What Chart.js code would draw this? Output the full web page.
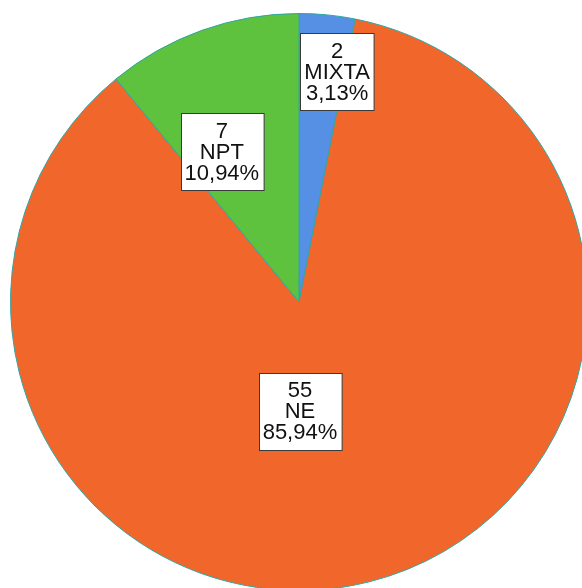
<!DOCTYPE html>
<html>
<head>
<meta charset="utf-8">
<script src="https://cdn.jsdelivr.net/npm/chart.js@4.4.1/dist/chart.umd.min.js"></script>
<style>
  html, body { margin: 0; padding: 0; background: #fff; overflow: hidden; width: 582px; height: 588px; }
  #wrap { position: absolute; left: 10px; top: 13px; width: 578px; height: 578px; }
</style>
</head>
<body>
<div id="wrap"><canvas id="pie"></canvas></div>
<script>
// ── Data ──────────────────────────────────────────────────────────────
const categories = ['MIXTA', 'NE', 'NPT'];
const counts     = [2, 55, 7];
const sliceColors = ['#5690e4', '#f1672b', '#5ec23e'];

// label placement: angle (deg, clockwise from top) and fraction of radius
const labelPlacement = [
  { angle: 9.4,   r: 0.81 },
  { angle: 179.5, r: 0.378 },
  { angle: -27.2, r: 0.585 },
];

// ── Boxed value labels ────────────────────────────────────────────────
const boxLabels = {
  id: 'boxLabels',
  afterDatasetsDraw(chart) {
    const ctx = chart.ctx;
    const meta = chart.getDatasetMeta(0);
    const total = counts.reduce((a, b) => a + b, 0);
    const lineH = 21;
    ctx.save();
    ctx.font = '22px "Liberation Sans", Arial, sans-serif';
    ctx.textAlign = 'center';
    ctx.textBaseline = 'middle';
    meta.data.forEach((arc, i) => {
      const p = labelPlacement[i];
      const a = p.angle * Math.PI / 180;
      const cx = arc.x + Math.sin(a) * arc.outerRadius * p.r;
      const cy = arc.y - Math.cos(a) * arc.outerRadius * p.r;
      const pct = (counts[i] / total * 100).toFixed(2).replace('.', ',') + '%';
      const lines = [String(counts[i]), categories[i], pct];
      const w = Math.max(...lines.map(t => ctx.measureText(t).width)) + 8;
      const h = lines.length * lineH + 14;
      const x0 = Math.round(cx - w / 2) + 0.5;
      const y0 = Math.round(cy - h / 2) + 0.5;
      ctx.fillStyle = '#ffffff';
      ctx.fillRect(x0, y0, w, h);
      ctx.strokeStyle = '#3a3a3a';
      ctx.lineWidth = 1;
      ctx.strokeRect(x0, y0, w, h);
      ctx.fillStyle = '#111111';
      lines.forEach((t, k) => {
        ctx.fillText(t, cx, cy + (k - 1) * lineH + 1);
      });
    });
    ctx.restore();
  }
};

new Chart(document.getElementById('pie'), {
  type: 'pie',
  data: {
    labels: categories,
    datasets: [{
      data: counts,
      backgroundColor: sliceColors,
      borderColor: '#2fa6a0',
      borderWidth: 1,
    }]
  },
  options: {
    responsive: true,
    maintainAspectRatio: false,
    animation: false,
    layout: { padding: 0 },
    plugins: {
      legend: { display: false },
      tooltip: { enabled: false },
    }
  },
  plugins: [boxLabels]
});
</script>
</body>
</html>
